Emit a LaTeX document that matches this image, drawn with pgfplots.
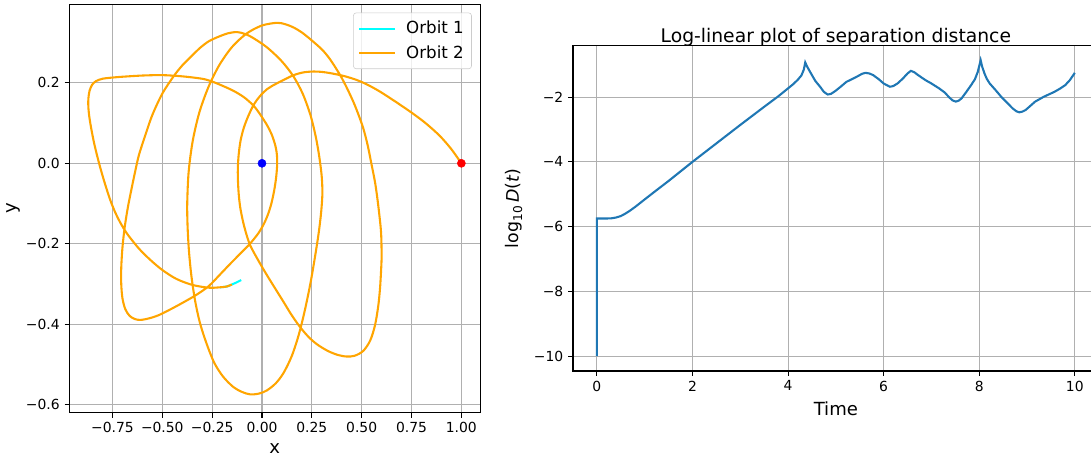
\documentclass[border=0pt]{standalone}
\usepackage{fontspec}
\setmainfont{DejaVu Sans}
\usepackage{pgfplots}
\pgfplotsset{compat=1.18}

\definecolor{mplblue}{HTML}{1F77B4}
\definecolor{gridgray}{HTML}{B0B0B0}
\definecolor{legendgray}{HTML}{CCCCCC}
\definecolor{orbtwo}{HTML}{FFA500}
\definecolor{orbone}{HTML}{00FFFF}

\pgfplotsset{
  mpl/.style={
    scale only axis,
    axis line style={line width=0.8pt},
    tick align=outside,
    major tick length=3.5pt,
    every tick/.style={black, line width=0.8pt},
    xtick pos=left, ytick pos=left,
    grid=major,
    major grid style={gridgray, line width=0.8pt},
    tick label style={font=\fontsize{10}{12}\selectfont},
    label style={font=\fontsize{13}{15}\selectfont},
  }
}

\begin{document}
\begin{tikzpicture}

% left: the two orbits
\begin{axis}[mpl, set layers,
  at={(49.97pt,31.75pt)}, anchor=south west,
  width=295.7pt, height=294.2pt,
  xmin=-0.966, xmax=1.094, ymin=-0.620, ymax=0.395,
  xtick={-0.75,-0.5,-0.25,0,0.25,0.5,0.75,1},
  xticklabels={−0.75,−0.50,−0.25,0.00,0.25,0.50,0.75,1.00},
  ytick={-0.6,-0.4,-0.2,0,0.2},
  yticklabels={−0.6,−0.4,−0.2,0.0,0.2},
  xlabel={x}, ylabel={y},
  xlabel style={yshift=-1pt},
  ylabel style={at={(axis description cs:-0.136,0.5)}, anchor=center},
  legend cell align=left,
  legend style={at={(1,1)}, anchor=north east, xshift=-6pt, yshift=-6pt,
    draw=legendgray, rounded corners=2pt, fill=white, fill opacity=0.8,
    text opacity=1, font=\fontsize{12}{14}\selectfont,
    inner xsep=3.5pt, inner ysep=4pt, row sep=3pt, column sep=5pt},
  legend image code/.code={\draw[#1] (0pt,0pt) -- (26pt,0pt);},
]
\addplot[orbone, line width=1.5pt, smooth] coordinates {
  (-0.21,-0.308) (-0.176,-0.306) (-0.151,-0.301) (-0.128,-0.296) (-0.104,-0.290)
};
\addlegendentry{Orbit 1}
\addplot[orbtwo, line width=1.5pt, smooth, tension=0.5] coordinates {
  (1.0,0.0) (0.95,0.035) (0.892,0.068) (0.82,0.100) (0.75,0.126) (0.67,0.153)
  (0.592,0.178) (0.53,0.195) (0.475,0.207) (0.41,0.217) (0.342,0.224)
  (0.30,0.227) (0.26,0.228) (0.21,0.226) (0.159,0.219) (0.10,0.205)
  (0.05,0.192) (0.025,0.184) (-0.01,0.167) (-0.042,0.145) (-0.07,0.116)
  (-0.092,0.087) (-0.108,0.055) (-0.117,0.021) (-0.121,-0.01) (-0.121,-0.037)
  (-0.117,-0.075) (-0.109,-0.11) (-0.095,-0.145) (-0.079,-0.175) (-0.059,-0.204)
  (-0.02,-0.24) (0.025,-0.278) (0.065,-0.31) (0.109,-0.345) (0.15,-0.378)
  (0.193,-0.408) (0.235,-0.432) (0.277,-0.450) (0.33,-0.466) (0.38,-0.476)
  (0.425,-0.480) (0.465,-0.478) (0.508,-0.466) (0.543,-0.44) (0.567,-0.402)
  (0.583,-0.355) (0.592,-0.311) (0.598,-0.26) (0.600,-0.228) (0.597,-0.17)
  (0.583,-0.104) (0.568,-0.05) (0.55,-0.004) (0.53,0.045) (0.508,0.087)
  (0.483,0.122) (0.458,0.153) (0.425,0.188) (0.392,0.219) (0.342,0.258)
  (0.30,0.283) (0.243,0.308) (0.20,0.325) (0.16,0.337) (0.12,0.345)
  (0.076,0.349) (-0.002,0.342) (-0.078,0.322) (-0.150,0.289) (-0.214,0.244)
  (-0.269,0.189) (-0.315,0.125) (-0.348,0.054) (-0.368,-0.022) (-0.375,-0.1)
  (-0.373,-0.16) (-0.366,-0.22) (-0.354,-0.28) (-0.336,-0.34) (-0.312,-0.395)
  (-0.28,-0.445) (-0.24,-0.495) (-0.195,-0.530) (-0.143,-0.556) (-0.10,-0.568)
  (-0.059,-0.574) (-0.015,-0.572) (0.025,-0.564) (0.07,-0.546) (0.109,-0.520)
  (0.15,-0.478) (0.185,-0.425) (0.215,-0.365) (0.243,-0.298) (0.266,-0.232)
  (0.285,-0.171) (0.297,-0.12) (0.303,-0.075) (0.300,-0.035) (0.292,0.0)
  (0.282,0.033) (0.268,0.07) (0.243,0.12) (0.205,0.172) (0.159,0.215)
  (0.10,0.253) (0.025,0.288) (-0.05,0.313) (-0.09,0.322) (-0.126,0.326)
  (-0.17,0.323) (-0.22,0.314) (-0.267,0.303) (-0.31,0.287) (-0.36,0.263)
  (-0.40,0.243) (-0.442,0.217) (-0.50,0.173) (-0.55,0.120) (-0.585,0.07)
  (-0.617,0.021) (-0.636,-0.02) (-0.655,-0.065) (-0.673,-0.11) (-0.689,-0.16)
  (-0.70,-0.21) (-0.706,-0.26) (-0.706,-0.30) (-0.700,-0.335) (-0.686,-0.362)
  (-0.664,-0.379) (-0.637,-0.387) (-0.608,-0.389) (-0.565,-0.385) (-0.517,-0.377)
  (-0.46,-0.363) (-0.40,-0.347) (-0.33,-0.327) (-0.267,-0.305) (-0.21,-0.276)
  (-0.16,-0.250) (-0.11,-0.225) (-0.059,-0.199) (-0.02,-0.175) (0.008,-0.152)
  (0.03,-0.127) (0.047,-0.10) (0.061,-0.068) (0.071,-0.035) (0.076,-0.004)
  (0.075,0.02) (0.068,0.042) (0.05,0.07) (0.025,0.095) (-0.01,0.122)
  (-0.042,0.143) (-0.09,0.164) (-0.143,0.180) (-0.2,0.193) (-0.25,0.203)
  (-0.30,0.210) (-0.4,0.216) (-0.5,0.219) (-0.6,0.218) (-0.7,0.215)
  (-0.75,0.213) (-0.80,0.210) (-0.833,0.204) (-0.852,0.195) (-0.865,0.180)
  (-0.871,0.160) (-0.871,0.14) (-0.866,0.115) (-0.856,0.085) (-0.842,0.05)
  (-0.825,0.015) (-0.806,-0.02) (-0.785,-0.055) (-0.762,-0.09) (-0.738,-0.12)
  (-0.71,-0.148) (-0.675,-0.176) (-0.617,-0.212) (-0.56,-0.24) (-0.5,-0.265)
  (-0.43,-0.287) (-0.35,-0.302) (-0.267,-0.309) (-0.21,-0.308) (-0.176,-0.306)
  (-0.151,-0.301)
};
\addlegendentry{Orbit 2}
\addplot[only marks, mark=*, mark size=2.9pt, blue, forget plot,
  on layer=axis background] coordinates {(0,0)};
\addplot[only marks, mark=*, mark size=2.9pt, red, forget plot,
  on layer=axis background] coordinates {(1,0)};
\end{axis}

% right: separation distance
\begin{axis}[mpl,
  at={(412.56pt,61.92pt)}, anchor=south west,
  width=378.5pt, height=234.5pt,
  xmin=-0.5, xmax=10.5, ymin=-10.46, ymax=-0.40,
  xtick={0,2,4,6,8,10},
  xticklabels={0,2,4,6,8,10},
  ytick={-10,-8,-6,-4,-2},
  yticklabels={−10,−8,−6,−4,−2},
  xlabel={Time},
  xlabel style={yshift=-1pt},
  ylabel={log\textsubscript{10}\,\textit{D}(\textit{t})},
  ylabel style={at={(axis description cs:-0.112,0.5)}, anchor=center,
    font=\fontsize{12.5}{15}\selectfont},
  title={Log-linear plot of separation distance},
  title style={font=\fontsize{13.5}{16}\selectfont, yshift=-10pt},
]
\addplot[mplblue, line width=1.5pt] coordinates {
  (0,-10) (0,-5.75) (0.1,-5.75) (0.2,-5.75) (0.3,-5.745) (0.4,-5.72)
  (0.5,-5.675) (0.6,-5.595) (0.7,-5.50) (0.8,-5.392) (0.9,-5.277)
  (1.0,-5.16) (1.2,-4.93) (1.5,-4.59) (2,-4.0) (2.5,-3.43) (3.0,-2.86)
  (3.5,-2.30) (3.8,-1.97) (4.0,-1.73) (4.1,-1.61) (4.2,-1.47) (4.28,-1.33)
  (4.33,-1.15) (4.36,-0.93) (4.40,-1.06) (4.48,-1.27) (4.57,-1.50)
  (4.67,-1.68) (4.75,-1.84) (4.83,-1.92) (4.9,-1.90) (4.99,-1.81)
  (5.1,-1.68) (5.22,-1.53) (5.4,-1.40) (5.55,-1.28) (5.62,-1.25)
  (5.70,-1.27) (5.78,-1.32) (5.9,-1.45) (6.0,-1.58) (6.13,-1.68)
  (6.2,-1.66) (6.29,-1.58) (6.4,-1.43) (6.5,-1.27) (6.57,-1.19)
  (6.64,-1.23) (6.72,-1.32) (6.88,-1.48) (7.0,-1.58) (7.16,-1.73)
  (7.28,-1.86) (7.36,-1.99) (7.44,-2.10) (7.51,-2.14) (7.57,-2.11)
  (7.63,-2.04) (7.73,-1.84) (7.83,-1.63) (7.91,-1.45) (7.97,-1.22)
  (8.01,-0.98) (8.03,-0.86) (8.06,-1.05) (8.11,-1.27) (8.16,-1.44)
  (8.22,-1.58) (8.34,-1.78) (8.46,-1.99) (8.58,-2.17) (8.70,-2.35)
  (8.78,-2.44) (8.84,-2.47) (8.90,-2.45) (8.97,-2.40) (9.07,-2.27)
  (9.17,-2.14) (9.35,-1.99) (9.57,-1.84) (9.70,-1.73) (9.80,-1.63)
  (9.90,-1.47) (10.0,-1.25)
};
\end{axis}

\pgfresetboundingbox
\useasboundingbox (0,0) rectangle (785.52pt,329.04pt);
\end{tikzpicture}
\end{document}
